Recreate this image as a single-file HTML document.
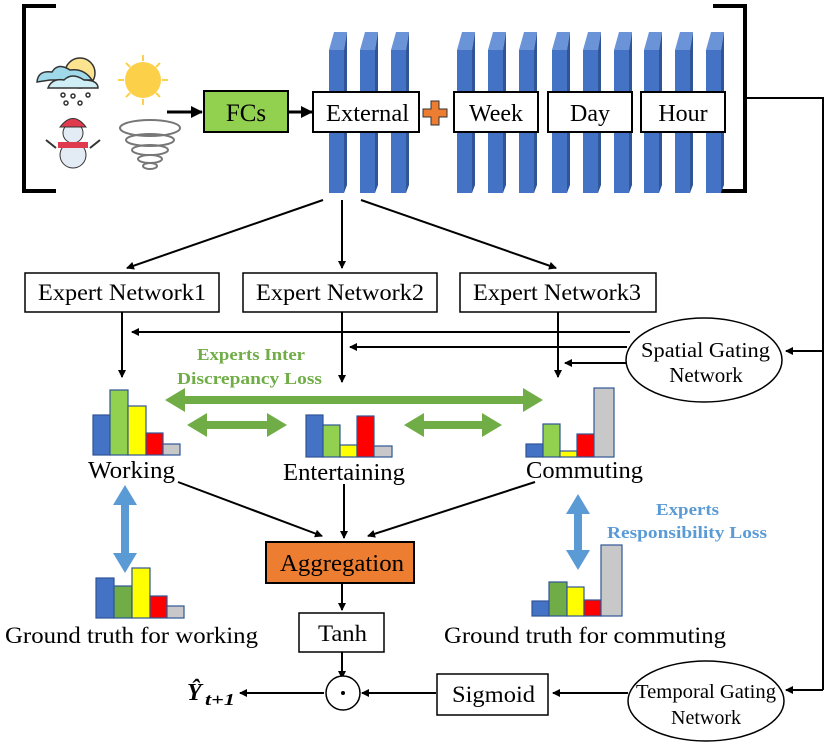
<html><body style="margin:0;background:#fff">
<svg width="831" height="744" xmlns="http://www.w3.org/2000/svg" font-family="Liberation Serif, serif">
<defs>
<marker id="a" markerWidth="8" markerHeight="8" refX="7" refY="4" orient="auto" markerUnits="userSpaceOnUse"><path d="M0,0L8,4L0,8z" fill="#000"/></marker>
<marker id="ab" markerWidth="12" markerHeight="12" refX="11" refY="6" orient="auto" markerUnits="userSpaceOnUse"><path d="M0,0L12,6L0,12z" fill="#000"/></marker>
<g id="slab"><path d="M0,50L5,32H18L15,50z" fill="#6a93d8"/><rect x="0" y="50" width="15" height="143" fill="#4472c4"/><path d="M15,50L18,32V185L15,193z" fill="#2f5597"/></g>
</defs>
<path d="M56,6H24V191H56" fill="none" stroke="#000" stroke-width="4"/>
<path d="M713,6H745V191H713" fill="none" stroke="#000" stroke-width="4"/>
<circle cx="80" cy="73" r="15" fill="#fbe38f" stroke="#333" stroke-width="1.5"/>
<path d="M37,82Q38,70 52,72Q58,62 70,70Q84,68 92,80H50z" fill="#9fd9ea" stroke="#333" stroke-width="1.5"/>
<path d="M48,88Q52,78 64,80Q72,72 84,80Q98,80 98,88z" fill="#cfeef5" stroke="#333" stroke-width="1.5"/>
<g fill="none" stroke="#333" stroke-width="1.5"><circle cx="63" cy="95" r="2"/><circle cx="73" cy="96" r="2"/><circle cx="88" cy="95" r="2"/><circle cx="66" cy="103" r="2"/><circle cx="80" cy="103" r="2"/></g>
<circle cx="143" cy="80" r="18" fill="#fdd04a"/>
<g stroke="#fdd04a" stroke-width="2"><path d="M143,55v6M143,99v6M118,80h6M162,80h6M126,63l4,4M156,93l4,4M160,63l-4,4M126,97l4,-4"/></g>
<circle cx="73" cy="155" r="13" fill="#e3ecf5" stroke="#333"/>
<circle cx="73" cy="133" r="10" fill="#e3ecf5" stroke="#333"/>
<path d="M60,127Q73,110 86,127z" fill="#e03a4e" stroke="#333"/>
<rect x="58" y="142" width="30" height="6" fill="#e03a4e"/>
<path d="M46,140l10,8M100,140l-10,8" stroke="#333" stroke-width="2"/>
<g fill="none" stroke="#777" stroke-width="2"><ellipse cx="150" cy="128" rx="30" ry="8"/><ellipse cx="150" cy="140" rx="24" ry="6"/><ellipse cx="150" cy="150" rx="18" ry="5"/><ellipse cx="150" cy="159" rx="12" ry="4"/><ellipse cx="150" cy="166" rx="7" ry="3"/></g>
<use href="#slab" x="329"/><use href="#slab" x="360"/><use href="#slab" x="391"/>
<use href="#slab" x="457"/><use href="#slab" x="488"/><use href="#slab" x="519"/>
<use href="#slab" x="552"/><use href="#slab" x="583"/><use href="#slab" x="614"/>
<use href="#slab" x="644"/><use href="#slab" x="675"/><use href="#slab" x="706"/>
<line x1="167" y1="112" x2="202" y2="112" stroke="#000" stroke-width="3" marker-end="url(#ab)"/>
<rect x="204" y="91" width="84" height="41" fill="#92d050" stroke="#000" stroke-width="2"/>
<text x="246" y="121" font-size="25" text-anchor="middle">FCs</text>
<line x1="288" y1="112" x2="312" y2="112" stroke="#000" stroke-width="3" marker-end="url(#ab)"/>
<rect x="313" y="92" width="106" height="40" fill="#fff" stroke="#000" stroke-width="2"/>
<text x="326" y="121" font-size="24" textLength="83" lengthAdjust="spacingAndGlyphs">External</text>
<path d="M431,101h8v8h8v8h-8v8h-8v-8h-8v-8h8z" fill="#ed7d31" stroke="#333"/>
<rect x="454" y="92" width="84" height="40" fill="#fff" stroke="#000" stroke-width="2"/>
<text x="496" y="121" font-size="24" text-anchor="middle">Week</text>
<rect x="548" y="92" width="84" height="40" fill="#fff" stroke="#000" stroke-width="2"/>
<text x="590" y="121" font-size="24" text-anchor="middle">Day</text>
<rect x="641" y="92" width="84" height="40" fill="#fff" stroke="#000" stroke-width="2"/>
<text x="683" y="121" font-size="24" text-anchor="middle">Hour</text>
<path d="M745,98H823V690" fill="none" stroke="#000" stroke-width="2"/>
<line x1="823" y1="351" x2="786" y2="351" stroke="#000" stroke-width="2" marker-end="url(#a)"/>
<line x1="823" y1="690" x2="786" y2="690" stroke="#000" stroke-width="2" marker-end="url(#a)"/>
<g stroke="#000" stroke-width="2">
<line x1="323" y1="200" x2="127" y2="268" marker-end="url(#a)"/>
<line x1="342" y1="200" x2="342" y2="268" marker-end="url(#a)"/>
<line x1="361" y1="200" x2="556" y2="268" marker-end="url(#a)"/>
</g>
<g font-size="23">
<rect x="25" y="273" width="194" height="39" fill="#fff" stroke="#000" stroke-width="1.5"/><text x="38" y="300" textLength="168" lengthAdjust="spacingAndGlyphs">Expert Network1</text>
<rect x="243" y="273" width="194" height="39" fill="#fff" stroke="#000" stroke-width="1.5"/><text x="256" y="300" textLength="168" lengthAdjust="spacingAndGlyphs">Expert Network2</text>
<rect x="460" y="273" width="196" height="39" fill="#fff" stroke="#000" stroke-width="1.5"/><text x="473" y="300" textLength="168" lengthAdjust="spacingAndGlyphs">Expert Network3</text>
</g>
<ellipse cx="704" cy="360" rx="78" ry="42" fill="#fff" stroke="#000" stroke-width="1.5"/>
<text x="641" y="357" font-size="21" textLength="129" lengthAdjust="spacingAndGlyphs">Spatial Gating</text>
<text x="706" y="382" font-size="21" text-anchor="middle">Network</text>
<g stroke="#000" stroke-width="2">
<line x1="630" y1="332" x2="132" y2="332" marker-end="url(#a)"/>
<line x1="627" y1="347" x2="350" y2="347" marker-end="url(#a)"/>
<line x1="626" y1="363" x2="565" y2="363" marker-end="url(#a)"/>
<line x1="122" y1="312" x2="122" y2="377" marker-end="url(#a)"/>
<line x1="342" y1="312" x2="342" y2="382" marker-end="url(#a)"/>
<line x1="558" y1="312" x2="558" y2="377" marker-end="url(#a)"/>
</g>
<text x="197" y="360" font-size="17" font-weight="bold" fill="#70ad47" textLength="108" lengthAdjust="spacingAndGlyphs">Experts Inter</text>
<text x="177" y="384" font-size="17" font-weight="bold" fill="#70ad47" textLength="145" lengthAdjust="spacingAndGlyphs">Discrepancy Loss</text>
<g fill="#70ad47">
<path d="M165,400l20,-12v8h338v-8l20,12l-20,12v-8h-338v8z"/>
<path d="M187,425l20,-12v8h60v-8l20,12l-20,12v-8h-60v8z"/>
<path d="M404,425l20,-12v8h58v-8l20,12l-20,12v-8h-58v8z"/>
</g>
<g stroke="#2f5597" stroke-width="1.2">
<rect x="93" y="415" width="17" height="40" fill="#4472c4"/><rect x="110" y="390" width="18" height="65" fill="#92d050"/><rect x="128" y="406" width="18" height="49" fill="#ffff00"/><rect x="146" y="433" width="17" height="22" fill="#ff0000"/><rect x="163" y="444" width="17" height="11" fill="#c8c8c8"/>
<rect x="306" y="415" width="17" height="42" fill="#4472c4"/><rect x="323" y="425" width="17" height="32" fill="#92d050"/><rect x="340" y="445" width="17" height="12" fill="#ffff00"/><rect x="357" y="416" width="17" height="41" fill="#ff0000"/><rect x="374" y="446" width="18" height="11" fill="#c8c8c8"/>
<rect x="526" y="444" width="17" height="13" fill="#4472c4"/><rect x="543" y="424" width="17" height="33" fill="#92d050"/><rect x="560" y="451" width="17" height="6" fill="#ffff00"/><rect x="577" y="434" width="17" height="23" fill="#ff0000"/><rect x="594" y="388" width="20" height="69" fill="#c8c8c8"/>
<rect x="96" y="578" width="18" height="40" fill="#4472c4"/><rect x="114" y="586" width="18" height="32" fill="#70ad47"/><rect x="132" y="568" width="18" height="50" fill="#ffff00"/><rect x="150" y="596" width="17" height="22" fill="#ff0000"/><rect x="167" y="606" width="17" height="12" fill="#c8c8c8"/>
<rect x="532" y="601" width="17" height="15" fill="#4472c4"/><rect x="549" y="582" width="18" height="34" fill="#70ad47"/><rect x="567" y="587" width="17" height="29" fill="#ffff00"/><rect x="584" y="600" width="17" height="16" fill="#ff0000"/><rect x="601" y="545" width="21" height="71" fill="#c8c8c8"/>
</g>
<g font-size="24">
<text x="88" y="478" textLength="87" lengthAdjust="spacingAndGlyphs">Working</text>
<text x="283" y="480" textLength="122" lengthAdjust="spacingAndGlyphs">Entertaining</text>
<text x="526" y="478" textLength="117" lengthAdjust="spacingAndGlyphs">Commuting</text>
</g>
<g stroke="#000" stroke-width="2">
<line x1="178" y1="482" x2="322" y2="536" marker-end="url(#a)"/>
<line x1="344" y1="484" x2="344" y2="538" marker-end="url(#a)"/>
<line x1="535" y1="482" x2="368" y2="536" marker-end="url(#a)"/>
</g>
<rect x="266" y="542" width="148" height="41" fill="#ed7d31" stroke="#000" stroke-width="2"/>
<text x="280" y="571" font-size="24" textLength="124" lengthAdjust="spacingAndGlyphs">Aggregation</text>
<g fill="#5b9bd5">
<path d="M125,485l-12,20h8v48h-8l12,20l12,-20h-8v-48h8z"/>
<path d="M578,494l-12,20h8v36h-8l12,20l12,-20h-8v-36h8z"/>
</g>
<text x="656" y="515" font-size="17" font-weight="bold" fill="#5b9bd5" textLength="63" lengthAdjust="spacingAndGlyphs">Experts</text>
<text x="607" y="538" font-size="17" font-weight="bold" fill="#5b9bd5" textLength="160" lengthAdjust="spacingAndGlyphs">Responsibility Loss</text>
<text x="5" y="643" font-size="23" textLength="253" lengthAdjust="spacingAndGlyphs">Ground truth for working</text>
<text x="444" y="643" font-size="23" textLength="282" lengthAdjust="spacingAndGlyphs">Ground truth for commuting</text>
<g stroke="#000" stroke-width="2">
<line x1="342" y1="583" x2="342" y2="610" marker-end="url(#a)"/>
<line x1="342" y1="652" x2="342" y2="678" marker-end="url(#a)"/>
<line x1="628" y1="693" x2="553" y2="693" marker-end="url(#a)"/>
<line x1="436" y1="693" x2="362" y2="693" marker-end="url(#a)"/>
<line x1="324" y1="693" x2="240" y2="693" marker-end="url(#a)"/>
</g>
<rect x="299" y="613" width="85" height="39" fill="#fff" stroke="#000" stroke-width="1.5"/>
<text x="318" y="641" font-size="23" textLength="49" lengthAdjust="spacingAndGlyphs">Tanh</text>
<circle cx="343" cy="693" r="17" fill="#fff" stroke="#000" stroke-width="1.5"/>
<circle cx="343" cy="693" r="2" fill="#000"/>
<rect x="437" y="674" width="111" height="41" fill="#fff" stroke="#000" stroke-width="1.5"/>
<text x="452" y="702" font-size="23" textLength="83" lengthAdjust="spacingAndGlyphs">Sigmoid</text>
<ellipse cx="706" cy="701" rx="78" ry="40" fill="#fff" stroke="#000" stroke-width="1.5"/>
<text x="636" y="698" font-size="20" textLength="140" lengthAdjust="spacingAndGlyphs">Temporal Gating</text>
<text x="706" y="724" font-size="20" text-anchor="middle">Network</text>
<text x="187" y="700" font-size="24" font-weight="bold" font-style="italic">Ŷ</text>
<text x="205" y="705" font-size="17" font-weight="bold" font-style="italic" textLength="30" lengthAdjust="spacingAndGlyphs">t+1</text>
</svg>
</body></html>
